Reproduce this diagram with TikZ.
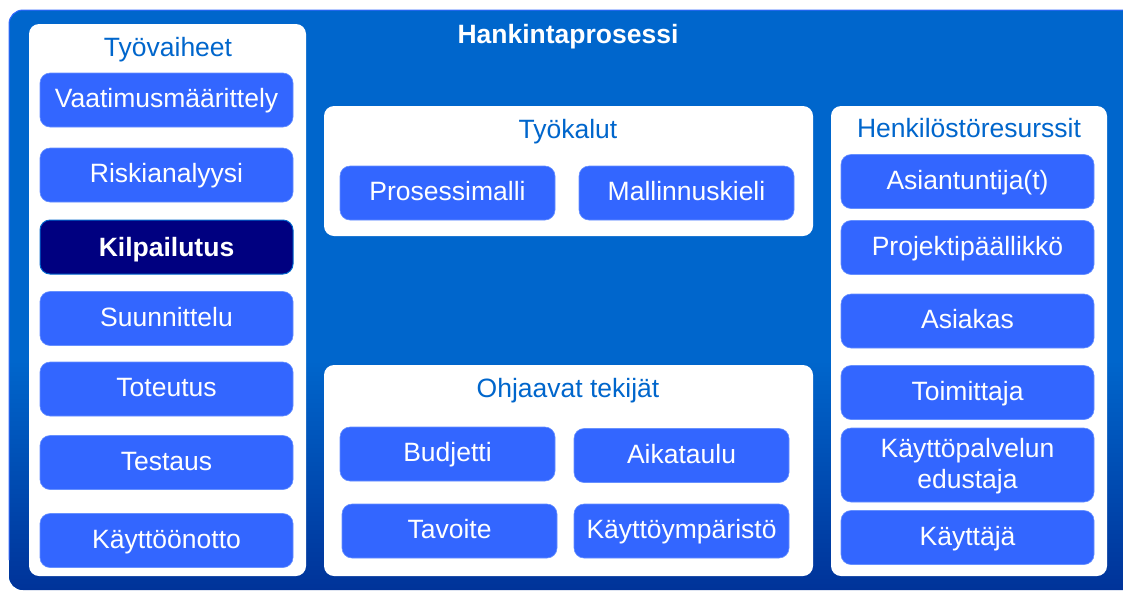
\documentclass[tikz,border=0pt]{standalone}
\usepackage{fontspec}
\setmainfont{Liberation Sans}
\definecolor{bgtop}{HTML}{0066CC}
\definecolor{bgbot}{HTML}{003399}
\definecolor{itemblue}{HTML}{3366FF}
\definecolor{itemedge}{HTML}{6690FF}
\definecolor{navy}{HTML}{000080}
\definecolor{titleblue}{HTML}{0066CC}
\begin{document}
\begin{tikzpicture}[x=1pt,y=-1pt,
  panel/.style={fill=white, draw=none, rounded corners=10pt, inner sep=0pt},
  paneltitle/.style={text=titleblue, font=\fontsize{26.5}{31}\selectfont, inner sep=0pt, anchor=base},
  item/.style={fill=itemblue, draw=itemedge, line width=0.6pt, rounded corners=10pt, text=white,
    font=\fontsize{26.5}{31}\selectfont, align=center, inner sep=0pt, minimum width=253pt, minimum height=54pt,
    text height=20pt, text depth=5pt},
  smallitem/.style={item, minimum width=215pt},
  current/.style={item, fill=navy, draw=titleblue, line width=1pt, font=\fontsize{26.5}{31}\selectfont\bfseries,
    text height=22pt, text depth=4pt}
]
\useasboundingbox (0,0) rectangle (1123,590);
% outer background
\begin{scope}
  \clip[rounded corners=14pt] (9,10) rectangle (1140,590);
  \fill[bgtop] (9,10) rectangle (1140,590);
  \shade[top color=bgtop, bottom color=bgbot] (9,360) rectangle (1140,590);
\end{scope}
\draw[itemblue, line width=1pt, rounded corners=14pt] (9,560) -- (9,10) -- (1140,10);
\node[text=white, font=\fontsize{26.5}{31}\selectfont\bfseries, inner sep=0pt, anchor=base] (title) at (568,43) {Hankintaprosessi};

% panels
\node[panel, minimum width=277pt, minimum height=552pt] (p1) at (167.5,300) {};
\node[panel, minimum width=489pt, minimum height=130pt] (p2) at (568.5,171) {};
\node[panel, minimum width=489pt, minimum height=211pt] (p3) at (568.5,470.5) {};
\node[panel, minimum width=276pt, minimum height=470pt] (p4) at (969,341) {};

\node[paneltitle] (t1) at (168,56) {Työvaiheet};
\node[paneltitle] (t2) at (568,138) {Työkalut};
\node[paneltitle] (t3) at (568,397) {Ohjaavat tekijät};
\node[paneltitle] (t4) at (969,137) {Henkilöstöresurssit};

% Työvaiheet
\node[item] (vaat) at (166.5,100) {Vaatimusmäärittely};
\node[item] (risk) at (166.5,175) {Riskianalyysi};
\node[current] (kilp) at (166.5,247) {Kilpailutus};
\node[item] (suun) at (166.5,318.5) {Suunnittelu};
\node[item] (tote) at (166.5,389) {Toteutus};
\node[item] (test) at (166.5,462.5) {Testaus};
\node[item] (kayt) at (166.5,540.5) {Käyttöönotto};

% Työkalut
\node[smallitem] (proc) at (447.5,193) {Prosessimalli};
\node[smallitem] (mall) at (686.5,193) {Mallinnuskieli};

% Ohjaavat tekijät
\node[smallitem] (budj) at (447.5,454) {Budjetti};
\node[smallitem] (aika) at (681.5,455.5) {Aikataulu};
\node[smallitem] (tavo) at (449.5,531) {Tavoite};
\node[smallitem] (ymp) at (681.5,531) {Käyttöympäristö};

% Henkilöstöresurssit
\node[item] (asia) at (967.5,181.5) {Asiantuntija(t)};
\node[item] (proj) at (967.5,247.5) {Projektipäällikkö};
\node[item] (asiak) at (967.5,321) {Asiakas};
\node[item] (toim) at (967.5,392.5) {Toimittaja};
\node[item, minimum height=74pt, text height=51pt, text depth=5pt] (kpe) at (967.5,465) {Käyttöpalvelun\\edustaja};
\node[item] (kaytt) at (967.5,537.5) {Käyttäjä};
\end{tikzpicture}
\end{document}
